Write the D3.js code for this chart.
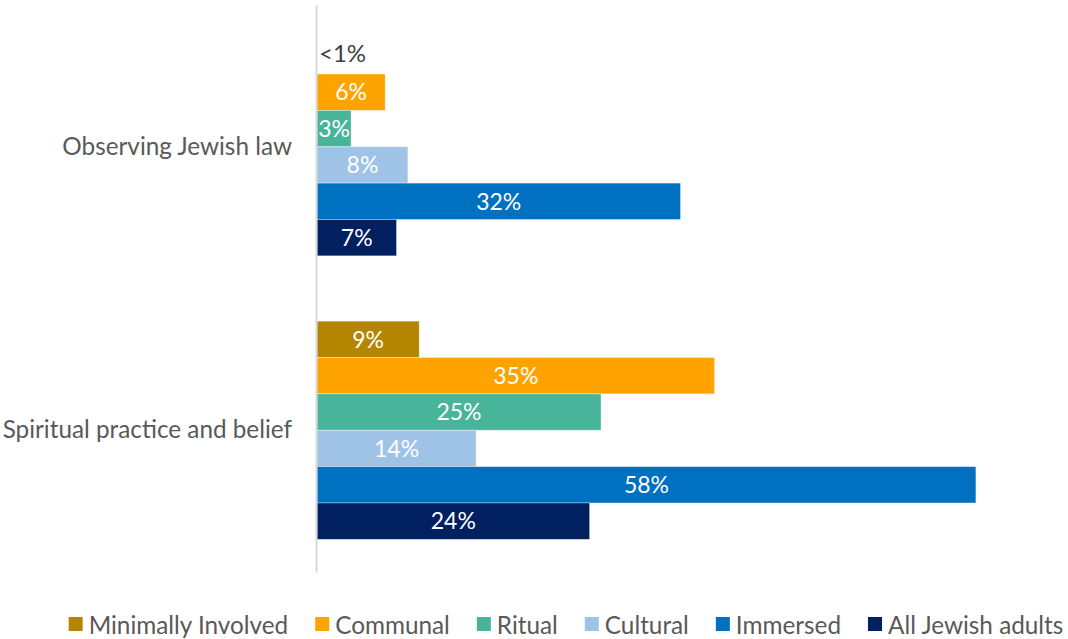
<!DOCTYPE html>
<html>
<head>
<meta charset="utf-8">
<script src="https://cdn.jsdelivr.net/npm/d3@7"></script>
<style>
  html, body { margin: 0; padding: 0; background: #fff; }
  svg { display: block; font-family: "Lato", "Open Sans", sans-serif; }
</style>
</head>
<body>
<svg id="chart" width="1068" height="639"></svg>
<script>
// Share of each group for two areas of Jewish life
const categories = ["Observing Jewish law", "Spiritual practice and belief"];
const seriesNames = ["Minimally Involved", "Communal", "Ritual", "Cultural", "Immersed", "All Jewish adults"];
const seriesColors = ["#B48600", "#FFA300", "#48B59B", "#9FC3E7", "#0070C0", "#002060"];
// values in percent, one array per category, ordered as seriesNames
const observingLaw = [0, 6, 3, 8, 32, 7];
const spiritualPractice = [9, 35, 25, 14, 58, 24];
// labels shown on the bars
const observingLawLabels = ["<1%", "6%", "3%", "8%", "32%", "7%"];
const spiritualPracticeLabels = ["9%", "35%", "25%", "14%", "58%", "24%"];

const rows = [
  { category: categories[0], values: observingLaw, labels: observingLawLabels },
  { category: categories[1], values: spiritualPractice, labels: spiritualPracticeLabels }
];

const svg = d3.select("#chart");

const plotLeft = 317, plotTop = 5, plotBottom = 572;
const x = d3.scaleLinear().domain([0, 60]).range([plotLeft, plotLeft + 681.6]);
const y0 = d3.scaleBand().domain(categories).range([plotTop, plotBottom]).paddingInner(0).paddingOuter(0);
const groupHeight = 218.2;
const y1 = d3.scaleBand().domain(seriesNames).range([0, groupHeight]).padding(0);

// bars
const groups = svg.append("g").selectAll("g.group")
  .data(rows)
  .join("g")
  .attr("class", "group")
  .attr("transform", d => `translate(0,${y0(d.category) + (y0.bandwidth() - groupHeight) / 2})`);

groups.selectAll("rect")
  .data(d => d.values.map((v, i) => ({ v, i, label: d.labels[i] })))
  .join("rect")
  .attr("x", x(0))
  .attr("y", d => y1(seriesNames[d.i]))
  .attr("width", d => x(d.v) - x(0))
  .attr("height", y1.bandwidth())
  .attr("fill", d => seriesColors[d.i])
  .attr("stroke", "rgba(255,255,255,0.45)")
  .attr("stroke-width", 0.8);

// value labels: centred inside the bar, or just past the end when the bar is too short
groups.selectAll("text")
  .data(d => d.values.map((v, i) => ({ v, i, label: d.labels[i] })))
  .join("text")
  .attr("x", d => d.v < 2 ? x(d.v) + 2 : (x(0) + x(d.v)) / 2)
  .attr("y", d => y1(seriesNames[d.i]) + y1.bandwidth() / 2 - (d.v < 2 ? 2 : 0))
  .attr("dy", "0.36em")
  .attr("text-anchor", d => d.v < 2 ? "start" : "middle")
  .attr("fill", d => d.v < 2 ? "#404040" : "#ffffff")
  .style("font-size", d => d.v < 2 ? "24px" : "23px")
  .text(d => d.label);

// vertical category axis
const yAxis = d3.axisLeft(y0).tickSize(0).tickPadding(24);
const axisG = svg.append("g")
  .attr("transform", `translate(${plotLeft - 1},0)`)
  .call(yAxis);
axisG.select(".domain").attr("stroke", "#D9D9D9").attr("stroke-width", 2);
axisG.selectAll(".tick text")
  .attr("fill", "#595959")
  .style("font-size", "24.3px")
  .style("font-family", "Lato, 'Open Sans', sans-serif");

// legend
const legend = svg.append("g").attr("transform", "translate(0,625)");
const legendItems = legend.selectAll("g")
  .data(seriesNames)
  .join("g");
legendItems.append("rect")
  .attr("y", -8)
  .attr("width", 14)
  .attr("height", 14)
  .attr("fill", (d, i) => seriesColors[i]);
legendItems.append("text")
  .attr("x", 20)
  .attr("y", 0)
  .attr("dy", "0.36em")
  .attr("fill", "#595959")
  .style("font-size", "24.3px")
  .text(d => d);

// place legend entries side by side, centred under the plot
const gap = 27;
let widths = [];
legendItems.each(function () { widths.push(this.getBBox().width); });
const total = d3.sum(widths) + gap * (widths.length - 1);
let cx = 566 - total / 2;
legendItems.attr("transform", (d, i) => {
  const t = `translate(${cx},0)`;
  cx += widths[i] + gap;
  return t;
});
</script>
</body>
</html>
